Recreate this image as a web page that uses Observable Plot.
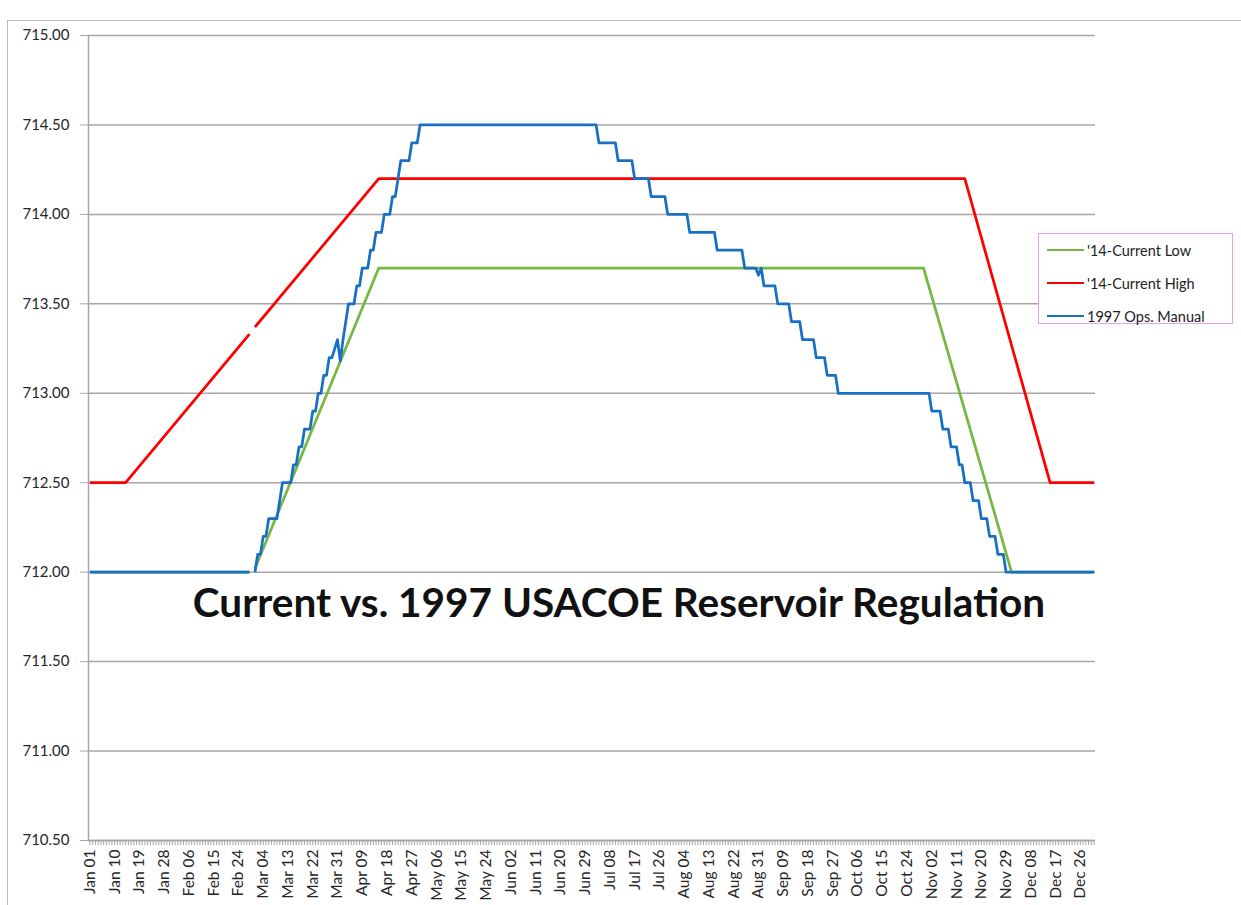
<!DOCTYPE html>
<html>
<head>
<meta charset="utf-8">
<script src="https://cdn.jsdelivr.net/npm/d3@7"></script>
<script src="https://cdn.jsdelivr.net/npm/@observablehq/plot@0.6"></script>
<style>
  html, body { margin: 0; padding: 0; background: #fff; }
  #wrap { position: relative; width: 1241px; height: 905px; overflow: hidden; font-family: Lato, "Open Sans", sans-serif; }
  #frame { position: absolute; left: 7px; top: 20px; width: 1240px; height: 900px; border-top: 1.5px solid #b8b8b8; border-left: 1.5px solid #b8b8b8; }
  #chart { position: absolute; left: 0; top: 0; }
  #title { position: absolute; left: 0; width: 1238px; top: 577px; text-align: center; font-family: Lato, sans-serif; font-weight: bold; font-size: 40.5px; color: #111; white-space: nowrap; }
  #legend { position: absolute; left: 1038px; top: 233px; width: 195px; height: 91px; border: 1.5px solid #e7a3e7; background: #fff; box-sizing: border-box; }
  .item { position: absolute; left: 8px; height: 20px; display: flex; align-items: center; font-size: 14.5px; color: #222; }
  .sw { width: 37px; height: 0; border-top: 2.75px solid; margin-right: 3px; }
</style>
</head>
<body>
<div id="wrap">
  <div id="frame"></div>
  <div id="chart"></div>
  <div id="title">Current vs. 1997 USACOE Reservoir Regulation</div>
  <div id="legend"></div>
</div>
<script>
// ---- data (leap-year daily categories, Feb 29 left blank) ----
const year = 2016;
const xTickLabels = ["Jan 01","Jan 10","Jan 19","Jan 28","Feb 06","Feb 15","Feb 24","Mar 04","Mar 13","Mar 22","Mar 31","Apr 09","Apr 18","Apr 27","May 06","May 15","May 24","Jun 02","Jun 11","Jun 20","Jun 29","Jul 08","Jul 17","Jul 26","Aug 04","Aug 13","Aug 22","Aug 31","Sep 09","Sep 18","Sep 27","Oct 06","Oct 15","Oct 24","Nov 02","Nov 11","Nov 20","Nov 29","Dec 08","Dec 17","Dec 26"];
const yTicks = [710.5, 711, 711.5, 712, 712.5, 713, 713.5, 714, 714.5, 715];

const seriesNames = ["'14-Current Low", "'14-Current High", "1997 Ops. Manual"];
const seriesColors = ["#77b843", "#ff0000", "#1870c5"];

const lowDates  = ["Jan 01","Feb 28","Feb 29","Mar 01","Apr 15","Oct 30","Dec 01","Dec 31"];
const lowValues = [712.0, 712.0, null, 712.02, 713.7, 713.7, 712.0, 712.0];

const highDates  = ["Jan 01","Jan 14","Feb 28","Feb 29","Mar 01","Apr 15","Nov 14","Dec 15","Dec 31"];
const highValues = [712.5, 712.5, 713.33, null, 713.37, 714.2, 714.2, 712.5, 712.5];

const opsDates = ["Jan 01","Feb 28","Feb 29","Mar 01",
  "Mar 02","Mar 03","Mar 04","Mar 05","Mar 06","Mar 09","Mar 10","Mar 11","Mar 14","Mar 15","Mar 16",
  "Mar 17","Mar 18","Mar 19","Mar 21","Mar 22","Mar 23","Mar 24","Mar 25","Mar 26","Mar 27","Mar 28","Mar 29",
  "Mar 31","Apr 01","Apr 02","Apr 03","Apr 04","Apr 06","Apr 07","Apr 08","Apr 09","Apr 11","Apr 12","Apr 13",
  "Apr 14","Apr 16","Apr 17","Apr 19","Apr 20","Apr 21","Apr 22","Apr 23","Apr 26","Apr 27","Apr 29","Apr 30",
  "Jul 03","Jul 04","Jul 10","Jul 11","Jul 16","Jul 17","Jul 22","Jul 23","Jul 28","Jul 29","Aug 05","Aug 06",
  "Aug 15","Aug 16","Aug 25","Aug 26","Aug 30","Aug 31","Sep 01","Sep 02","Sep 06","Sep 07","Sep 11","Sep 12",
  "Sep 15","Sep 16","Sep 20","Sep 21","Sep 24","Sep 25","Sep 28","Sep 29","Nov 01","Nov 02","Nov 05","Nov 06",
  "Nov 08","Nov 09","Nov 11","Nov 12","Nov 13","Nov 14","Nov 16","Nov 17","Nov 19","Nov 20","Nov 22","Nov 23",
  "Nov 25","Nov 26","Nov 28","Nov 29","Dec 31"];
const opsValues = [712.0, 712.0, null, 712.0,
  712.1, 712.1, 712.2, 712.2, 712.3, 712.3, 712.4, 712.5, 712.5, 712.6, 712.6,
  712.7, 712.7, 712.8, 712.8, 712.9, 712.9, 713.0, 713.0, 713.1, 713.1, 713.2, 713.2,
  713.3, 713.18, 713.3, 713.4, 713.5, 713.5, 713.6, 713.6, 713.7, 713.7, 713.8, 713.8,
  713.9, 713.9, 714.0, 714.0, 714.1, 714.1, 714.2, 714.3, 714.3, 714.4, 714.4, 714.5,
  714.5, 714.4, 714.4, 714.3, 714.3, 714.2, 714.2, 714.1, 714.1, 714.0, 714.0, 713.9,
  713.9, 713.8, 713.8, 713.7, 713.7, 713.66, 713.7, 713.6, 713.6, 713.5, 713.5, 713.4,
  713.4, 713.3, 713.3, 713.2, 713.2, 713.1, 713.1, 713.0, 713.0, 712.9, 712.9, 712.8,
  712.8, 712.7, 712.7, 712.6, 712.6, 712.5, 712.5, 712.4, 712.4, 712.3, 712.3, 712.2,
  712.2, 712.1, 712.1, 712.0, 712.0];

// ---- build ----
const parse = s => d3.utcParse("%Y %b %d")(year + " " + s);
const toRows = (dates, values, name) => dates.map((d, i) => ({date: parse(d), value: values[i], series: name}));
const rows = [
  toRows(lowDates, lowValues, seriesNames[0]),
  toRows(highDates, highValues, seriesNames[1]),
  toRows(opsDates, opsValues, seriesNames[2])
];
const first = parse("Jan 01"), last = parse("Dec 31");
const halfDay = 12 * 3600 * 1000;
const xDomain = [new Date(+first - halfDay), new Date(+last + halfDay)];
const allDays = d3.utcDay.range(first, d3.utcDay.offset(last, 1));
const labelDates = xTickLabels.map(parse);
const gridColor = "#a6a6a6";

const chart = Plot.plot({
  width: 1241, height: 905,
  marginLeft: 88, marginRight: 146, marginTop: 35, marginBottom: 65,
  style: {fontFamily: "Lato, 'Open Sans', sans-serif", fontSize: "14px", color: "#262626", background: "transparent"},
  x: {type: "utc", domain: xDomain},
  y: {domain: [yTicks[0], yTicks[yTicks.length - 1]]},
  marks: [
    Plot.gridY(yTicks, {stroke: gridColor, strokeOpacity: 1, strokeWidth: 1.5}),
    Plot.ruleX([xDomain[0]], {stroke: gridColor, strokeWidth: 1.5}),
    Plot.ruleY([yTicks[0]], {stroke: gridColor, strokeWidth: 1.5}),
    Plot.axisY(yTicks, {tickSize: 8, tickPadding: 11, tickFormat: d3.format(".2f"), label: null, stroke: gridColor, fontSize: 15}),
    Plot.axisX(allDays, {tickSize: 5, text: null, stroke: gridColor, label: null}),
    Plot.axisX(labelDates, {tickSize: 0, tickPadding: 9, tickRotate: -90, tickFormat: d3.utcFormat("%b %d"), label: null, fontSize: 15.5}),
    ...rows.map((r, i) => Plot.line(r, {x: "date", y: "value", stroke: seriesColors[i], strokeWidth: 2.75, strokeLinejoin: "round", strokeLinecap: "butt"}))
  ]
});
document.getElementById("chart").appendChild(chart);

const legend = document.getElementById("legend");
seriesNames.forEach((n, i) => {
  const it = document.createElement("div");
  it.className = "item";
  it.style.top = (6 + i * 33) + "px";
  it.innerHTML = `<span class="sw" style="border-color:${seriesColors[i]}"></span><span></span>`;
  it.lastChild.textContent = n;
  legend.appendChild(it);
});
</script>
</body>
</html>
